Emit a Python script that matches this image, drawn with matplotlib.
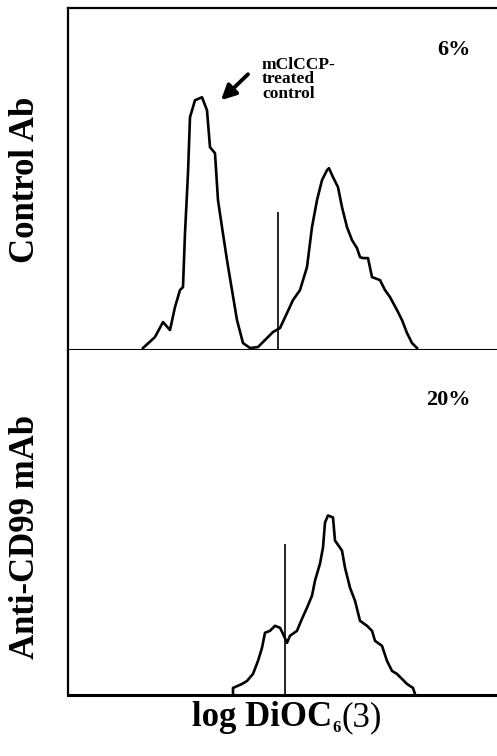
import numpy as np
import matplotlib
matplotlib.use("Agg")
import matplotlib.pyplot as plt

plt.rcParams['font.family'] = ['Liberation Serif', 'DejaVu Serif']

# log DiOC6(3) fluorescence (channel, arbitrary) vs cell count
ctrl_x = [75, 87, 95, 102, 107, 112, 115, 117, 120, 122, 127, 134, 139, 142, 147,
          150, 154, 159, 164, 169, 175, 182, 190, 199, 205, 212, 219, 225, 232,
          239, 244, 249, 254, 259, 261, 265, 270, 274, 279, 284, 289, 292, 295,
          300, 304, 312, 317, 322, 329, 334, 339, 344, 349]
ctrl_y = [2, 13, 28, 20, 43, 60, 63, 117, 177, 233, 250, 253, 240, 203, 197,
          150, 123, 90, 60, 30, 7, 2, 3, 12, 18, 22, 37, 50, 60,
          83, 123, 150, 170, 180, 182, 173, 163, 143, 123, 110, 102, 93, 92,
          92, 73, 70, 60, 53, 40, 30, 17, 7, 2]

cd99_x = [165, 165, 174, 179, 185, 190, 194, 197, 202, 207, 212, 215, 219, 222,
          229, 234, 239, 244, 247, 252, 255, 257, 260, 265, 267, 274, 277, 282,
          287, 292, 299, 304, 307, 314, 319, 324, 329, 334, 339, 345, 347]
cd99_y = [2, 7, 11, 14, 21, 34, 47, 62, 64, 69, 67, 61, 52, 59,
          64, 76, 87, 99, 114, 131, 147, 172, 179, 177, 154, 144, 127, 107,
          94, 74, 69, 64, 54, 49, 34, 24, 21, 16, 11, 7, 1]

# threshold markers (channel, line height)
ctrl_gate = (210, 138)
cd99_gate = (217, 151)

panel_labels = ["Control Ab", "Anti-CD99 mAb"]
percents = ["6%", "20%"]

fig = plt.figure(figsize=(4.97, 7.56), dpi=100)
ax1 = fig.add_axes([0.1368, 0.537, 0.8632, 0.452])
ax2 = fig.add_axes([0.1368, 0.0807, 0.8632, 0.4563])

for ax in (ax1, ax2):
    ax.set_xlim(0, 429)
    ax.set_xticks([])
    ax.set_yticks([])
    ax.spines['right'].set_visible(False)
    for s in ('left', 'top', 'bottom'):
        ax.spines[s].set_linewidth(1.6)
    ax.spines['bottom'].set_linewidth(2.2)
ax2.spines['top'].set_visible(False)

ax1.set_ylim(0, 342)
ax2.set_ylim(0, 344)

ax1.plot(ctrl_x, ctrl_y, color='black', lw=1.9)
ax1.vlines(ctrl_gate[0], 0, ctrl_gate[1], color='black', lw=1.2)
ax2.plot(cd99_x, cd99_y, color='black', lw=1.9)
ax2.vlines(cd99_gate[0], 0, cd99_gate[1], color='black', lw=1.2)

ax1.text(386, 300, percents[0], ha='center', va='center', fontsize=16, fontweight='bold')
ax2.text(380, 294, percents[1], ha='center', va='center', fontsize=16, fontweight='bold')

ax1.text(194, 293, "mClCCP-\ntreated\ncontrol", ha='left', va='top', fontsize=12.5,
         fontweight='bold', linespacing=0.85)
ax1.annotate("", xy=(153, 250), xytext=(180, 276),
             arrowprops=dict(arrowstyle='-|>', color='black', lw=2.8, mutation_scale=22,
                             shrinkA=0, shrinkB=0))

fig.text(26 / 497, 1 - 180 / 756, panel_labels[0], rotation=90, ha='center', va='center',
         fontsize=25, fontweight='bold')
fig.text(26 / 497, 1 - 537 / 756, panel_labels[1], rotation=90, ha='center', va='center',
         fontsize=25, fontweight='bold')

# x label: "log DiOC" + small subscript 6 + "(3)"
t1 = fig.text(192 / 497, 1 - 718 / 756, "log DiOC", ha='left', va='center',
              fontsize=25, fontweight='bold')
t2 = ax2.annotate("6", xy=(1, 0), xycoords=t1, xytext=(0.5, -1), textcoords='offset points',
                  ha='left', va='bottom', fontsize=12, fontweight='bold')
t3 = ax2.annotate("(3)", xy=(1, 0), xycoords=(t2, t1), xytext=(0.5, 0),
                  textcoords='offset points', ha='left', va='bottom', fontsize=25)

fig.savefig("out.png", dpi=100)
